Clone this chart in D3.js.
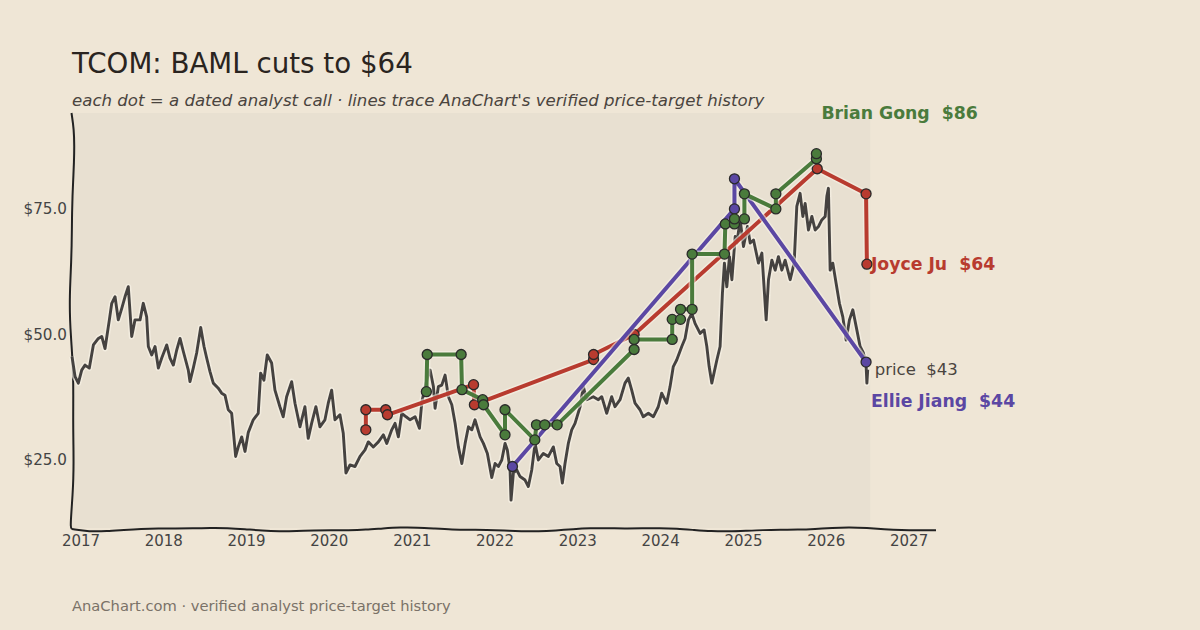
<!DOCTYPE html>
<html>
<head>
<meta charset="utf-8">
<script src="https://cdn.jsdelivr.net/npm/d3@7"></script>
<style>
  body { margin: 0; background: #efe6d6; }
  svg { display: block; font-family: "DejaVu Sans", sans-serif; }
  text { white-space: pre; }
</style>
</head>
<body>
<div id="chart"></div>
<script>
// Chart Params
const svgWidth = 1200;
const svgHeight = 630;

// price history, [decimal year, close]
const priceSeries = [
  [2016.891,45.6],[2016.928,41.6],[2016.967,40.3],[2017.008,42.9],[2017.048,43.9],[2017.100,43.3],
  [2017.149,47.9],[2017.209,49.2],[2017.250,49.6],[2017.290,47.2],[2017.342,52.9],[2017.371,56.2],
  [2017.411,57.5],[2017.450,52.9],[2017.492,55.2],[2017.531,57.5],[2017.571,59.5],[2017.612,49.6],
  [2017.652,52.9],[2017.713,52.9],[2017.752,56.2],[2017.793,53.5],[2017.813,47.6],[2017.854,45.9],
  [2017.894,47.6],[2017.934,43.3],[2017.975,45.3],[2018.035,47.9],[2018.075,45.3],[2018.115,43.9],
  [2018.156,46.9],[2018.196,49.2],[2018.236,46.6],[2018.296,42.9],[2018.316,40.6],[2018.356,43.3],
  [2018.397,46.3],[2018.446,51.4],[2018.486,47.6],[2018.518,45.3],[2018.558,42.6],[2018.598,40.3],
  [2018.658,39.3],[2018.699,38.3],[2018.739,37.9],[2018.779,35.0],[2018.820,34.3],[2018.839,31.0],
  [2018.868,25.7],[2018.900,27.6],[2018.941,29.6],[2018.981,26.7],[2019.021,30.5],[2019.081,33.0],
  [2019.141,34.3],[2019.170,42.3],[2019.210,40.9],[2019.250,45.9],[2019.303,44.3],[2019.343,38.9],
  [2019.403,35.6],[2019.443,33.6],[2019.484,37.6],[2019.545,40.6],[2019.585,36.3],[2019.645,31.6],
  [2019.705,35.6],[2019.745,29.3],[2019.786,32.3],[2019.838,35.6],[2019.886,31.6],[2019.947,33.0],
  [2019.987,36.3],[2020.028,38.9],[2020.068,33.0],[2020.128,34.0],[2020.168,30.3],[2020.200,22.4],
  [2020.249,24.0],[2020.309,23.7],[2020.370,25.7],[2020.430,27.0],[2020.470,28.6],[2020.530,27.6],
  [2020.591,28.6],[2020.651,30.0],[2020.692,28.3],[2020.752,31.0],[2020.792,32.3],[2020.832,29.6],
  [2020.873,34.3],[2020.925,33.6],[2020.973,33.0],[2021.034,33.6],[2021.086,31.3],[2021.115,36.5],
  [2021.155,39.6],[2021.175,40.9],[2021.215,42.9],[2021.255,39.6],[2021.275,35.3],[2021.315,39.6],
  [2021.356,39.9],[2021.396,41.9],[2021.436,37.6],[2021.477,36.0],[2021.517,32.3],[2021.557,27.6],
  [2021.598,24.3],[2021.638,28.3],[2021.678,31.6],[2021.719,31.0],[2021.758,33.0],[2021.819,29.6],
  [2021.859,28.3],[2021.907,26.3],[2021.960,21.5],[2022.000,24.3],[2022.040,23.7],[2022.081,25.0],
  [2022.121,28.3],[2022.148,27.0],[2022.181,23.0],[2022.193,17.0],[2022.221,22.4],[2022.262,23.0],
  [2022.302,21.7],[2022.362,21.0],[2022.402,19.7],[2022.443,23.0],[2022.483,28.3],[2022.523,25.0],
  [2022.583,26.3],[2022.644,25.7],[2022.704,27.6],[2022.745,24.3],[2022.785,23.7],[2022.813,20.4],
  [2022.845,24.3],[2022.885,28.3],[2022.926,31.0],[2022.966,32.3],[2023.027,35.6],[2023.066,39.6],
  [2023.107,37.0],[2023.187,37.6],[2023.248,37.0],[2023.289,37.6],[2023.349,34.3],[2023.409,37.6],
  [2023.449,35.6],[2023.510,37.0],[2023.570,40.3],[2023.610,41.3],[2023.651,38.9],[2023.691,36.3],
  [2023.751,35.0],[2023.791,33.6],[2023.852,34.3],[2023.912,33.6],[2023.972,35.6],[2024.013,38.3],
  [2024.073,36.3],[2024.114,39.6],[2024.153,43.6],[2024.194,44.9],[2024.255,47.6],[2024.295,49.2],
  [2024.335,52.9],[2024.376,54.2],[2024.415,52.2],[2024.476,50.2],[2024.524,50.9],[2024.557,47.6],
  [2024.585,43.6],[2024.617,40.3],[2024.678,44.9],[2024.717,47.6],[2024.745,58.2],[2024.769,64.2],
  [2024.798,59.5],[2024.830,65.5],[2024.859,60.9],[2024.899,69.5],[2024.919,68.2],[2024.959,72.8],
  [2024.999,67.5],[2025.047,71.5],[2025.080,68.2],[2025.120,68.8],[2025.180,64.2],[2025.221,66.2],
  [2025.273,52.9],[2025.301,60.9],[2025.342,64.8],[2025.382,62.8],[2025.421,65.5],[2025.462,62.8],
  [2025.502,64.8],[2025.563,60.9],[2025.611,64.2],[2025.643,75.5],[2025.683,78.1],[2025.716,73.5],
  [2025.744,76.1],[2025.784,70.8],[2025.825,73.5],[2025.865,70.8],[2025.905,71.5],[2025.945,72.8],
  [2025.986,73.5],[2026.006,77.5],[2026.025,79.1],[2026.046,62.8],[2026.078,64.2],[2026.118,60.2],
  [2026.158,56.2],[2026.199,53.5],[2026.239,48.9],[2026.279,52.9],[2026.320,54.9],[2026.360,51.6],
  [2026.408,47.6],[2026.448,46.3],[2026.481,43.6],[2026.490,40.3],[2026.500,43.0]
];

// analyst calls, [decimal year, target]
const juCalls = [
  [2020.44,31],[2020.44,35],[2020.68,35],[2020.70,34],[2021.74,40],[2021.75,36],
  [2023.19,45],[2023.19,46],[2023.68,50],[2025.89,83],[2026.48,78],[2026.49,64]
];
const jiangCalls = [
  [2022.21,23.7],[2024.89,75],[2024.89,81],[2026.48,44.5]
];
const gongCalls = [
  [2021.17,38.6],[2021.18,46],[2021.59,46],[2021.60,39],[2021.85,37],[2021.86,36],
  [2022.12,30],[2022.12,35],[2022.48,29],[2022.50,32],[2022.60,32],[2022.75,32],
  [2023.68,47],[2023.68,49],[2024.14,49],[2024.14,53],[2024.24,53],[2024.24,55],
  [2024.38,55],[2024.38,66],[2024.77,66],[2024.78,72],[2024.89,72],[2024.89,73],
  [2025.01,73],[2025.01,78],[2025.39,75],[2025.39,78],[2025.88,85],[2025.88,86]
];

const analystNames = ["Joyce Ju", "Ellie Jiang", "Brian Gong"];
const analystTargets = [64, 44, 86];
const lastPrice = 43;
const yTicks = [25, 50, 75];
const yearTicks = d3.range(2017, 2028);

const colors = { "Joyce Ju": "#b83b2f", "Ellie Jiang": "#5b47a3", "Brian Gong": "#4a7b3c" };

// decimal year -> Date
function toDate(y) {
  const yr = Math.floor(y);
  const start = Date.UTC(yr, 0, 1), end = Date.UTC(yr + 1, 0, 1);
  return new Date(start + (y - yr) * (end - start));
}

const svg = d3.select("#chart")
  .append("svg")
  .attr("width", svgWidth)
  .attr("height", svgHeight);

svg.append("rect").attr("width", svgWidth).attr("height", svgHeight).attr("fill", "#efe6d6");

// scales
const xScale = d3.scaleUtc()
  .domain([toDate(2016.891), toDate(2027.325)])
  .range([72, 936]);
const yScale = d3.scaleLinear()
  .domain([11.45, 94.1])
  .range([528, 113]);

// plot background
svg.append("rect")
  .attr("x", 72).attr("y", 113)
  .attr("width", xScale(toDate(2026.53)) - 72)
  .attr("height", 415)
  .attr("fill", "#e8e0d1");

// title block
svg.append("text")
  .attr("x", 72).attr("y", 73)
  .attr("font-size", 27.7)
  .attr("fill", "#2a2420")
  .text("TCOM: BAML cuts to $64");
svg.append("text")
  .attr("x", 72).attr("y", 106)
  .attr("font-size", 16.6)
  .attr("font-style", "italic")
  .attr("fill", "#4a443e")
  .text("each dot = a dated analyst call · lines trace AnaChart's verified price-target history");
svg.append("text")
  .attr("x", 72).attr("y", 611)
  .attr("font-size", 14.7)
  .attr("fill", "#7a7268")
  .text("AnaChart.com · verified analyst price-target history");

// wobbly sketch spines
const wobble = d3.line().curve(d3.curveBasis);
const leftPts = d3.range(0, 1.0001, 0.04).map(t => {
  const y = 113 + t * 415;
  const x = 72 + 1.8 * Math.sin(t * 9.5 + 0.6) + 0.6 * Math.sin(t * 23);
  return [x, y];
});
leftPts[0] = [71.5, 113];
svg.append("path")
  .attr("d", wobble(leftPts.concat([[72, 529]])))
  .attr("fill", "none").attr("stroke", "#222").attr("stroke-width", 2);

const bottomPts = d3.range(0, 1.0001, 0.02).map(t => {
  const x = 72 + t * 864;
  const y = 529.5 + 1.6 * Math.sin(t * 25 + 1.2) + 0.6 * Math.sin(t * 61);
  return [x, y];
});
bottomPts[0] = [72, 529];
svg.append("path")
  .attr("d", wobble(bottomPts))
  .attr("fill", "none").attr("stroke", "#222").attr("stroke-width", 2);

// axes labels
svg.append("g")
  .selectAll("text")
  .data(yTicks)
  .enter()
  .append("text")
  .attr("x", 67)
  .attr("y", d => yScale(d))
  .attr("dy", "0.35em")
  .attr("text-anchor", "end")
  .attr("font-size", 15.2)
  .attr("fill", "#444")
  .text(d => "$" + d.toFixed(1));

svg.append("g")
  .selectAll("text")
  .data(yearTicks)
  .enter()
  .append("text")
  .attr("x", d => xScale(toDate(d)))
  .attr("y", 546)
  .attr("text-anchor", "middle")
  .attr("font-size", 15)
  .attr("fill", "#444")
  .text(d => d3.utcFormat("%Y")(toDate(d)));

// price line
const line = d3.line()
  .x(d => xScale(toDate(d[0])))
  .y(d => yScale(d[1]));

svg.append("path")
  .datum(priceSeries)
  .attr("d", line)
  .attr("fill", "none")
  .attr("stroke", "#f6f1e6")
  .attr("stroke-opacity", 0.7)
  .attr("stroke-width", 6)
  .attr("stroke-linejoin", "round");
svg.append("path")
  .datum(priceSeries)
  .attr("d", line)
  .attr("fill", "none")
  .attr("stroke", "#454240")
  .attr("stroke-width", 2.9)
  .attr("stroke-linejoin", "round");

// analyst lines and dots
const callSets = [juCalls, jiangCalls, gongCalls];
callSets.forEach(function(calls, i) {
  const name = analystNames[i];
  const g = svg.append("g");
  g.append("path")
    .datum(calls)
    .attr("d", line)
    .attr("fill", "none")
    .attr("stroke", "#f6f1e6")
    .attr("stroke-opacity", 0.6)
    .attr("stroke-width", 7)
    .attr("stroke-linejoin", "round");
  g.append("path")
    .datum(calls)
    .attr("d", line)
    .attr("fill", "none")
    .attr("stroke", colors[name])
    .attr("stroke-width", 4)
    .attr("stroke-linejoin", "round");
  g.selectAll("circle")
    .data(calls)
    .enter()
    .append("circle")
    .attr("cx", d => xScale(toDate(d[0])))
    .attr("cy", d => yScale(d[1]))
    .attr("r", 5)
    .attr("fill", colors[name])
    .attr("stroke", "#2a2a2a")
    .attr("stroke-width", 1.3);
});

// end labels
const lastOf = arr => arr[arr.length - 1];
const gongEnd = lastOf(gongCalls), juEnd = lastOf(juCalls), jiangEnd = lastOf(jiangCalls);

svg.append("text")
  .attr("x", xScale(toDate(gongEnd[0])) + 5)
  .attr("y", yScale(gongEnd[1]) - 41)
  .attr("dy", "0.35em")
  .attr("font-size", 17.3).attr("font-weight", "bold")
  .attr("fill", colors["Brian Gong"])
  .text("Brian Gong  $" + analystTargets[2]);

svg.append("text")
  .attr("x", xScale(toDate(juEnd[0])) + 4)
  .attr("y", yScale(juEnd[1]))
  .attr("dy", "0.35em")
  .attr("font-size", 17.3).attr("font-weight", "bold")
  .attr("fill", colors["Joyce Ju"])
  .text("Joyce Ju  $" + analystTargets[0]);

svg.append("text")
  .attr("x", xScale(toDate(lastOf(priceSeries)[0])) + 7)
  .attr("y", yScale(lastPrice))
  .attr("dy", "0.35em")
  .attr("font-size", 16.5)
  .attr("fill", "#4a443e")
  .text("price  $" + lastPrice);

svg.append("text")
  .attr("x", xScale(toDate(jiangEnd[0])) + 5)
  .attr("y", yScale(jiangEnd[1]) + 39)
  .attr("dy", "0.35em")
  .attr("font-size", 17.3).attr("font-weight", "bold")
  .attr("fill", colors["Ellie Jiang"])
  .text("Ellie Jiang  $" + analystTargets[1]);
</script>
</body>
</html>
